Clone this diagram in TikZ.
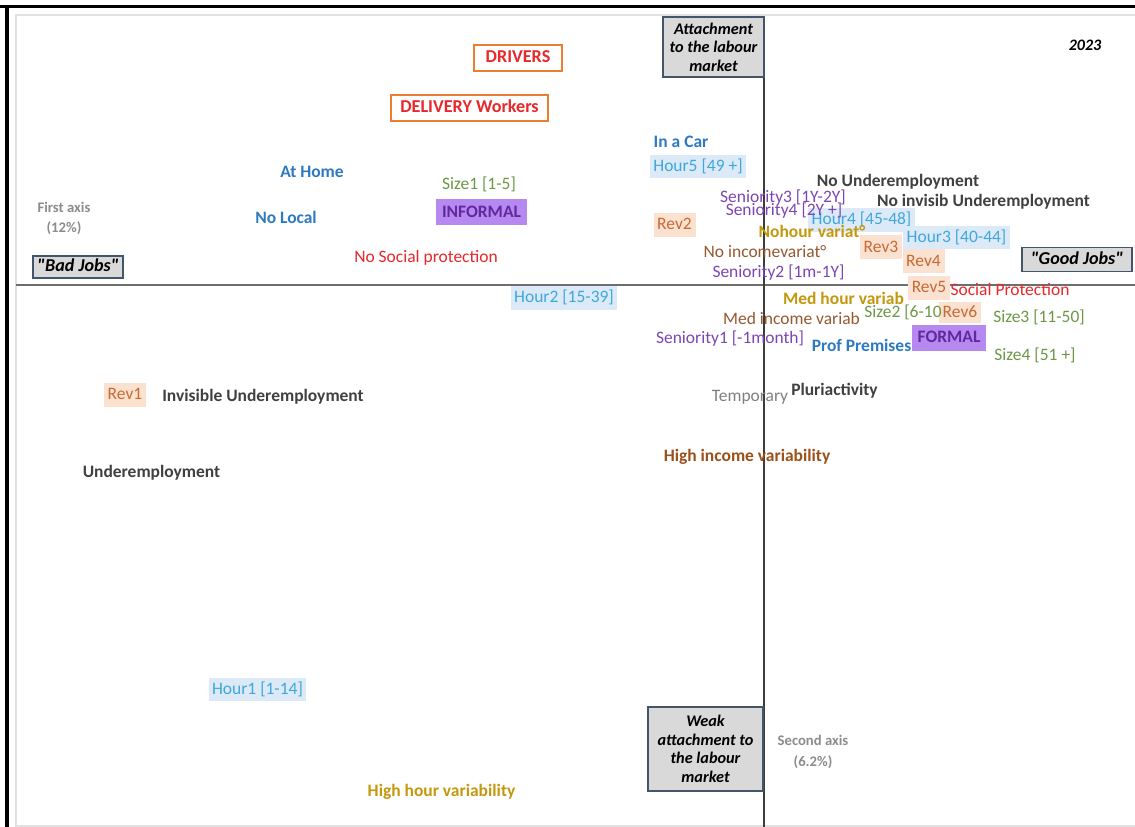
\documentclass[tikz,border=0pt]{standalone}
\usepackage{fontspec}
\setmainfont{Carlito}
\newcommand\lblfont{\fontsize{13.1pt}{15pt}\selectfont}
\newcommand\orfont{\fontsize{13.6pt}{15pt}\selectfont}
\newcommand\gboxfont{\fontsize{12.2pt}{13.9pt}\selectfont}
\newcommand\axfont{\fontsize{11pt}{15.2pt}\selectfont}
\newcommand\sq{\XeTeXglyph\XeTeXcharglyph"22\relax}
\definecolor{txtred}{RGB}{232,40,42}
\definecolor{boxorange}{RGB}{237,125,49}
\definecolor{txtblue}{RGB}{45,122,192}
\definecolor{hourtxt}{RGB}{62,168,222}
\definecolor{hourfill}{RGB}{220,233,246}
\definecolor{sizegreen}{RGB}{108,152,70}
\definecolor{senpurple}{RGB}{125,70,178}
\definecolor{purfill}{RGB}{181,137,240}
\definecolor{purtxt}{RGB}{98,40,158}
\definecolor{revtxt}{RGB}{200,105,50}
\definecolor{revfill}{RGB}{251,226,208}
\definecolor{goldtxt}{RGB}{196,152,12}
\definecolor{browntxt}{RGB}{150,88,48}
\definecolor{hbrown}{RGB}{155,80,25}
\definecolor{darktxt}{RGB}{64,64,64}
\definecolor{graytxt}{RGB}{128,128,128}
\definecolor{axgray}{RGB}{140,140,140}
\definecolor{boxgray}{RGB}{217,217,217}
\definecolor{boxborder}{RGB}{68,84,106}
\definecolor{hline}{RGB}{110,110,110}
\definecolor{vline}{RGB}{60,60,60}
\definecolor{innerframe}{RGB}{225,225,225}
\tikzset{
  lbl/.style={font=\lblfont, inner sep=0pt, text height=9.3pt, text depth=2.3pt},
  blbl/.style={lbl, font=\lblfont\bfseries},
  hourbox/.style={lbl, fill=hourfill, text=hourtxt, inner xsep=2.6pt, minimum height=17.5pt},
  revbox/.style={lbl, fill=revfill, text=revtxt, inner xsep=2.8pt, minimum height=18pt},
  purbox/.style={blbl, fill=purfill, text=purtxt, inner xsep=4.5pt, minimum height=19.5pt},
  orbox/.style={font=\orfont\bfseries, text=txtred, draw=boxorange, line width=1.6pt, inner sep=0pt, text height=9.6pt, text depth=2.4pt},
  graybox/.style={draw=boxborder, fill=boxgray, line width=1.1pt, font=\gboxfont\bfseries\itshape, align=center, inner sep=0pt},
  jobbox/.style={draw=boxborder, fill=boxgray, line width=1.1pt, font=\fontsize{13.6pt}{15pt}\selectfont\bfseries\itshape, inner sep=0pt, text height=9.4pt, text depth=2.6pt},
  axlbl/.style={font=\axfont\bfseries, text=axgray, align=center, inner sep=0pt},
  bluet/.style={blbl, text=txtblue},
  greent/.style={lbl, text=sizegreen},
  purt/.style={lbl, text=senpurple},
  redt/.style={lbl, text=txtred},
  darkt/.style={blbl, text=darktxt},
  goldt/.style={blbl, text=goldtxt},
  brownt/.style={lbl, text=browntxt},
}
\begin{document}
\begin{tikzpicture}[x=0.75pt,y=-0.75pt]
\useasboundingbox (0,0) rectangle (1135,827);
\fill[white] (0,0) rectangle (1135,827);
% frames
\draw[innerframe, line width=1.2pt] (1135,15) -- (16,15) -- (16,826) -- (1135,826);
\draw[black, line width=2.3pt] (0,6.5) -- (1135,6.5);
\draw[black, line width=2.3pt] (7,5.5) -- (7,827);
% axes
\coordinate (hl) at (16,285);
\coordinate (hr) at (1135,285);
\coordinate (vt) at (764,17);
\coordinate (vb) at (764,827);
\draw[hline, line width=1.6pt] (hl) -- (hr);
\draw[vline, line width=1.1pt] (vt) -- (vb);

% boxes
\node[orbox, minimum width=66pt, minimum height=20pt] (drivers) at (518,58) {DRIVERS};
\node[orbox, minimum width=118pt, minimum height=19pt] (delivery) at (469.5,108) {DELIVERY Workers};
\node[graybox, minimum width=75.75pt, minimum height=45pt] (attach) at (713.5,47) {Attachment\\to the labour\\market};
\node[graybox, minimum width=86.25pt, minimum height=63pt] (weak) at (705.5,749) {Weak\\attachment to\\the labour\\market};
\node[jobbox, minimum width=67.5pt, minimum height=16.5pt] (bad) at (78,267) {\sq Bad Jobs\sq};
\node[jobbox, minimum width=82.5pt, minimum height=18pt] (good) at (1077,259.5) {\sq Good Jobs\sq};
\node[font=\fontsize{12pt}{14pt}\selectfont\bfseries\itshape, inner sep=0pt] (year) at (1085,45) {2023};
\node[axlbl] (ax1) at (64,218.5) {First axis\\(12\%)};
\node[axlbl] (ax2) at (813,752) {Second axis\\(6.2\%)};

% hour boxes
\node[hourbox] (h5) at (698,166.5) {Hour5 [49 +]};
\node[hourbox] (h4) at (861.5,220) {Hour4 [45-48]};
\node[hourbox] (h3) at (956.5,237.5) {Hour3 [40-44]};
\node[hourbox] (h2) at (564,298) {Hour2 [15-39]};
\node[hourbox] (h1) at (257.5,689.5) {Hour1 [1-14]};

% rev boxes
\node[revbox] (r1) at (125,395) {Rev1};
\node[revbox] (r2) at (674.5,225) {Rev2};
\node[revbox] (r3) at (881,247.5) {Rev3};
\node[revbox] (r4) at (923.5,261.5) {Rev4};
\node[revbox] (r5) at (929,288) {Rev5};
\node[revbox, minimum height=16pt] (r6) at (960,312.5) {Rev6};

% formal / informal
\node[purbox] (informal) at (481.5,212.5) {INFORMAL};
\node[purbox] (formal) at (949,337.5) {FORMAL};

% blue
\node[bluet] (incar) at (681,143) {In a Car};
\node[bluet] (athome) at (312,173) {At Home};
\node[bluet] (nolocal) at (286,219) {No Local};
\node[bluet] (profprem) at (861.5,347) {Prof Premises};

% green
\node[greent] (size1) at (479,185) {Size1 [1-5]};
\node[greent] (size2) at (903,313) {Size2 [6-10};
\node[greent] (size3) at (1039,318) {Size3 [11-50]};
\node[greent] (size4) at (1035,356) {Size4 [51 +]};

% purple
\node[purt] (sen3) at (783,198) {Seniority3 [1Y-2Y]};
\node[purt] (sen4) at (784,211) {Seniority4 [2Y +]};
\node[purt] (sen2) at (778.5,273) {Seniority2 [1m-1Y]};
\node[purt] (sen1) at (730,339) {Seniority1 [-1month]};

% red
\node[redt] (nosocprot) at (426,258) {No Social protection};
\node[redt] (socprot) at (1010,291) {Social Protection};

% dark bold
\node[darkt] (nounemp) at (898,182) {No Underemployment};
\node[darkt] (noinvis) at (983.5,202) {No invisib Underemployment};
\node[darkt] (invis) at (263,397) {Invisible Underemployment};
\node[darkt] (unemp) at (151.5,473) {Underemployment};
\node[darkt] (pluri) at (834.5,391) {Pluriactivity};
\node[lbl, text=graytxt] (temp) at (750,397) {Temporary};

% gold
\node[goldt] (nohour) at (812,233) {Nohour variat°};
\node[goldt] (medhour) at (843.5,300) {Med hour variab};
\node[goldt] (highhour) at (441.5,792) {High hour variability};

% brown
\node[brownt] (noinc) at (765,253) {No incomevariat°};
\node[brownt] (medinc) at (791.5,320) {Med income variab};
\node[blbl, text=hbrown] (highinc) at (747,457) {High income variability};
\end{tikzpicture}
\end{document}
